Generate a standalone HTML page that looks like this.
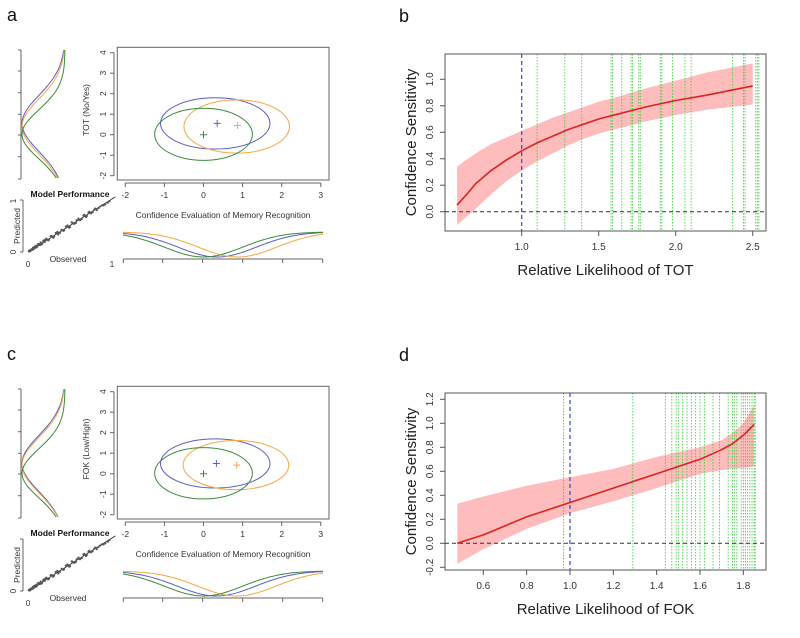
<!DOCTYPE html>
<html><head><meta charset="utf-8"><style>
body{margin:0;background:#fff}
svg{display:block;font-family:"Liberation Sans",Arial,sans-serif}
</style></head><body>
<svg id="fig" width="800" height="638" viewBox="0 0 800 638" xmlns="http://www.w3.org/2000/svg"></svg>
<script>
// ---- Panel b data ----
const bX=[0.58,0.65,0.7,0.8,0.9,1.0,1.1,1.2,1.3,1.4,1.5,1.6,1.8,2.0,2.2,2.5];
const bMid=[0.05,0.14,0.21,0.31,0.39,0.46,0.52,0.57,0.62,0.66,0.70,0.73,0.79,0.84,0.88,0.95];
const bUp=[0.34,0.40,0.44,0.51,0.56,0.61,0.66,0.71,0.75,0.79,0.83,0.86,0.93,0.99,1.05,1.12];
const bLo=[-0.10,-0.03,0.02,0.13,0.23,0.31,0.38,0.44,0.50,0.55,0.59,0.62,0.68,0.73,0.77,0.81];
const bGreen=[1.10,1.28,1.39,1.58,1.59,1.65,1.71,1.72,1.76,1.77,1.90,1.91,1.98,2.06,2.10,2.37,2.44,2.45,2.52,2.53,2.54];
const bXTicks=["1.0","1.5","2.0","2.5"];
const bYTicks=["0.0","0.2","0.4","0.6","0.8","1.0"];
// ---- Panel d data ----
const dX=[0.48,0.6,0.8,1.0,1.2,1.4,1.6,1.7,1.75,1.8,1.85];
const dMid=[0.0,0.07,0.22,0.34,0.46,0.58,0.70,0.78,0.83,0.90,0.99];
const dUp=[0.33,0.39,0.48,0.55,0.62,0.72,0.80,0.86,0.92,1.00,1.15];
const dLo=[-0.17,-0.05,0.12,0.25,0.35,0.46,0.58,0.61,0.62,0.63,0.64];
const dGreen=[0.97,1.29,1.44,1.47,1.49,1.50,1.52,1.54,1.56,1.58,1.60,1.62,1.66,1.69,1.73,1.75,1.76,1.77,1.79,1.80,1.81,1.82,1.83,1.84,1.85,1.855];
const dXTicks=["0.6","0.8","1.0","1.2","1.4","1.6","1.8"];
const dYTicks=["-0.2","0.0","0.2","0.4","0.6","0.8","1.0","1.2"];
// ---- Left panels data ----
const groupNames=["blue","orange","green"];
const groupColors=["#5b5fc7","#f5a742","#3d8a3d"];
const aCx=[0.3,0.85,0.0], aCy=[0.55,0.4,0.02], aRx=[1.4,1.35,1.25], aRy=[1.25,1.3,1.27];
const aMx=[0.35,0.87,0.0], aMy=[0.55,0.45,0.0];
const cCx=[0.3,0.83,0.0], cCy=[0.5,0.42,0.02], cRx=[1.4,1.35,1.25], cRy=[1.2,1.2,1.25];
const cMx=[0.33,0.85,0.0], cMy=[0.5,0.42,0.0];
const sdY=[1.37,1.35,1.2];
const sdX=[1.0,1.0,1.0];
const mainXTicks=["-2","-1","0","1","2","3"];
const mainYTicks=["-2","-1","0","1","2","3","4"];
const obs=[0.01,0.02,0.03,0.04,0.05,0.06,0.07,0.08,0.09,0.1,0.11,0.12,0.14,0.15,0.17,0.19,0.2,0.22,0.25,0.28,0.3,0.33,0.36,0.4,0.43,0.47,0.5,0.53,0.57,0.6,0.64,0.67,0.7,0.73,0.77,0.8,0.84,0.88,0.92,0.97,
  0.02,0.04,0.06,0.08,0.1,0.13,0.16,0.18,0.21,0.24,0.27,0.31,0.35,0.38,0.42,0.45,0.49,0.52,0.55,0.58,0.62,0.66,0.69,0.72,0.75,0.79,0.82,0.86,0.9,0.95];
const pred=[0.02,0.03,0.02,0.05,0.04,0.08,0.06,0.1,0.08,0.12,0.1,0.15,0.13,0.18,0.16,0.22,0.19,0.25,0.23,0.3,0.27,0.36,0.33,0.42,0.41,0.5,0.47,0.55,0.55,0.63,0.62,0.7,0.68,0.76,0.75,0.82,0.83,0.88,0.9,0.96,
  0.01,0.05,0.05,0.1,0.09,0.15,0.14,0.2,0.24,0.22,0.3,0.29,0.38,0.36,0.4,0.48,0.46,0.56,0.53,0.6,0.6,0.69,0.66,0.74,0.73,0.8,0.79,0.86,0.88,0.93];

const NS="http://www.w3.org/2000/svg";
const svg=document.getElementById('fig');
function mk(tag,attrs,parent,text){const e=document.createElementNS(NS,tag);for(const k in attrs)e.setAttribute(k,attrs[k]);if(text!==undefined)e.textContent=text;(parent||svg).appendChild(e);return e;}

// ---------- right panels ----------
function rightPanel(id,label,dy,X,Mid,Up,Lo,Green,xt,yt,sx,sy,xTitle){
  const g=mk('g',{},svg);
  
  
  const L=445,R=766,T=54+dy,B=231+dy;
  let pts=X.map((x,i)=>sx(x)+','+sy(Up[i]));
  for(let i=X.length-1;i>=0;i--)pts.push(sx(X[i])+','+sy(Lo[i]));
  const band=mk('polygon',{points:pts.join(' '),fill:'#ffbcbc'},g);
  
  
  Green.forEach(v=>{const l=mk('line',{x1:sx(v),x2:sx(v),y1:T,y2:B,stroke:'#33cc33','stroke-width':0.8,'stroke-dasharray':'1.5,1.5'},g);
    
    });
  const bl=mk('line',{x1:sx(1),x2:sx(1),y1:T,y2:B,stroke:'#3344dd','stroke-width':1.2,'stroke-dasharray':'4,3'},g);
  
  
  const zl=mk('line',{x1:L,x2:R,y1:sy(0),y2:sy(0),stroke:'#333','stroke-width':1,'stroke-dasharray':'4,3'},g);
  
  
  const ln=mk('polyline',{points:X.map((x,i)=>sx(x)+','+sy(Mid[i])).join(' '),fill:'none',stroke:'#dd2222','stroke-width':1.6,'stroke-linejoin':'round'},g);
  
  
  const box=mk('rect',{x:L,y:T,width:R-L,height:B-T,fill:'none',stroke:'#555','stroke-width':1},g);
  
  
  xt.forEach(t=>{const x=sx(parseFloat(t));mk('line',{x1:x,x2:x,y1:B,y2:B+5,stroke:'#555'},g);
    const tx=mk('text',{x:x,y:B+19,'font-size':10,'text-anchor':'middle',fill:'#333'},g,t);
    
    });
  yt.forEach(t=>{const y=sy(parseFloat(t));mk('line',{x1:L-5,x2:L,y1:y,y2:y,stroke:'#555'},g);
    const tx=mk('text',{x:0,y:0,'font-size':10,'text-anchor':'middle',fill:'#333',transform:`translate(433,${y}) rotate(-90)`},g,t);
    
    });
  const xtl=mk('text',{x:(L+R)/2,y:B+44,'font-size':15,'text-anchor':'middle',fill:'#222'},g,xTitle);
  
  
  const ytl=mk('text',{x:0,y:0,'font-size':15,'text-anchor':'middle',fill:'#222',transform:`translate(416,${(T+B)/2}) rotate(-90)`},g,'Confidence Sensitivity');
  
  
  const pl=mk('text',{x:399,y:22+dy,'font-size':18,fill:'#111'},g,label);
  
  
}
rightPanel('panel-b','b',0,bX,bMid,bUp,bLo,bGreen,bXTicks,bYTicks,v=>521.7+(v-1)*154,v=>211.7-v*132.4,'Relative Likelihood of TOT');
rightPanel('panel-d','d',339,dX,dMid,dUp,dLo,dGreen,dXTicks,dYTicks,v=>483.3+(v-0.6)*216.7,v=>543.3-v*120,'Relative Likelihood of FOK');

// ---------- left panels ----------
function leftPanel(id,label,dy,Cx,Cy,Rx,Ry,Mx,My,yTitle,showOnes){
  const g=mk('g',{},svg);
  
  
  const sx=v=>203.5+v*39.1, sy=v=>134.7+dy-v*20.5;
  const pl=mk('text',{x:7,y:21+dy,'font-size':18,fill:'#111'},g,label);
  
  
  const box=mk('rect',{x:117.3,y:47.3+dy,width:211.7,height:132.7,fill:'none',stroke:'#666','stroke-width':1},g);
  
  
  mk('line',{x1:sx(-2),x2:sx(3),y1:183+dy,y2:183+dy,stroke:'#666'},g);
  mainXTicks.forEach(t=>{const x=sx(parseFloat(t));mk('line',{x1:x,x2:x,y1:183+dy,y2:187+dy,stroke:'#666'},g);
    const tx=mk('text',{x:x,y:198+dy,'font-size':8.5,'text-anchor':'middle',fill:'#333'},g,t);
    
    });
  mk('line',{x1:114,x2:114,y1:sy(-2),y2:sy(4),stroke:'#666'},g);
  mainYTicks.forEach(t=>{const y=sy(parseFloat(t));mk('line',{x1:110,x2:114,y1:y,y2:y,stroke:'#666'},g);
    const tx=mk('text',{x:0,y:0,'font-size':8.5,'text-anchor':'middle',fill:'#333',transform:`translate(106,${y}) rotate(-90)`},g,t);
    
    });
  const yt=mk('text',{x:0,y:0,'font-size':8.5,'text-anchor':'middle',fill:'#333',transform:`translate(89,${110+dy}) rotate(-90)`},g,yTitle);
  
  
  const xt=mk('text',{x:223,y:218+dy,'font-size':8.5,'text-anchor':'middle',fill:'#333'},g,'Confidence Evaluation of Memory Recognition');
  
  
  for(let i=0;i<3;i++){
    const e=mk('ellipse',{cx:sx(Cx[i]),cy:sy(Cy[i]),rx:Rx[i]*39.1,ry:Ry[i]*20.5,fill:'none',stroke:groupColors[i],'stroke-width':1},g);
    
    
    const mx=sx(Mx[i]),my=sy(My[i]);
    const c=mk('path',{d:`M${mx-3.5},${my}H${mx+3.5}M${mx},${my-3.5}V${my+3.5}`,stroke:groupColors[i],'stroke-width':1},g);
    
    
  }
  mk('line',{x1:21,x2:21,y1:50+dy,y2:179+dy,stroke:'#666'},g);
  [50,71,92.7,114.3,135,156.7,179].forEach(y=>mk('line',{x1:18,x2:21,y1:y+dy,y2:y+dy,stroke:'#666'},g));
  for(let i=0;i<3;i++){
    let p=[];for(let y=50;y<=178;y+=2){const v=(134.7-y)/20.5;const z=(v-Cy[i])/sdY[i];p.push((65-43*Math.exp(-z*z/2)).toFixed(1)+','+(y+dy));}
    const l=mk('polyline',{points:p.join(' '),fill:'none',stroke:groupColors[i],'stroke-width':1},g);
    
    
  }
  mk('line',{x1:123.3,x2:322.7,y1:259+dy,y2:259+dy,stroke:'#666'},g);
  [123.3,162.7,202.7,242.7,282.7,322.7].forEach(x=>mk('line',{x1:x,x2:x,y1:259+dy,y2:263+dy,stroke:'#666'},g));
  for(let i=0;i<3;i++){
    let p=[];for(let x=123;x<=323;x+=2){const v=(x-203.5)/39.1;const z=(v-Mx[i])/sdX[i];p.push(x+','+(257+dy-25*(1-Math.exp(-z*z/2))).toFixed(1));}
    const l=mk('polyline',{points:p.join(' '),fill:'none',stroke:groupColors[i],'stroke-width':1},g);
    
    
  }
  const mt=mk('text',{x:70,y:197+dy,'font-size':8.5,'font-weight':'bold','text-anchor':'middle',fill:'#111'},g,'Model Performance');
  
  
  mk('line',{x1:23,x2:23,y1:200+dy,y2:252+dy,stroke:'#666'},g);
  mk('line',{x1:20,x2:23,y1:200+dy,y2:200+dy,stroke:'#666'},g);
  mk('line',{x1:20,x2:23,y1:252+dy,y2:252+dy,stroke:'#666'},g);
  const px=v=>28+v*84, py=v=>252+dy-v*53;
  mk('line',{x1:px(0),y1:py(0),x2:px(1.04),y2:py(1.04),stroke:'#333','stroke-width':1},g);
  obs.forEach((o,i)=>{const c=mk('circle',{cx:px(o),cy:py(pred[i]),r:1.1,fill:'#555'},g);
    
    });
  const ob=mk('text',{x:68,y:262+dy,'font-size':8.5,'text-anchor':'middle',fill:'#333'},g,'Observed');
  
  
  const pr=mk('text',{x:0,y:0,'font-size':8.5,'text-anchor':'middle',fill:'#333',transform:`translate(20,${226+dy}) rotate(-90)`},g,'Predicted');
  
  
  mk('text',{x:28,y:267+dy,'font-size':8,'text-anchor':'middle',fill:'#333'},g,'0');
  mk('text',{x:0,y:0,'font-size':8,'text-anchor':'middle',fill:'#333',transform:`translate(16,${252+dy}) rotate(-90)`},g,'0');
  if(showOnes){
    mk('text',{x:112,y:267+dy,'font-size':8,'text-anchor':'middle',fill:'#333'},g,'1');
    mk('text',{x:0,y:0,'font-size':8,'text-anchor':'middle',fill:'#333',transform:`translate(16,${201+dy}) rotate(-90)`},g,'1');
  }
}
leftPanel('panel-a','a',0,aCx,aCy,aRx,aRy,aMx,aMy,'TOT (No/Yes)',true);
leftPanel('panel-c','c',339,cCx,cCy,cRx,cRy,cMx,cMy,'FOK (Low/High)',false);
</script>
</body></html>
